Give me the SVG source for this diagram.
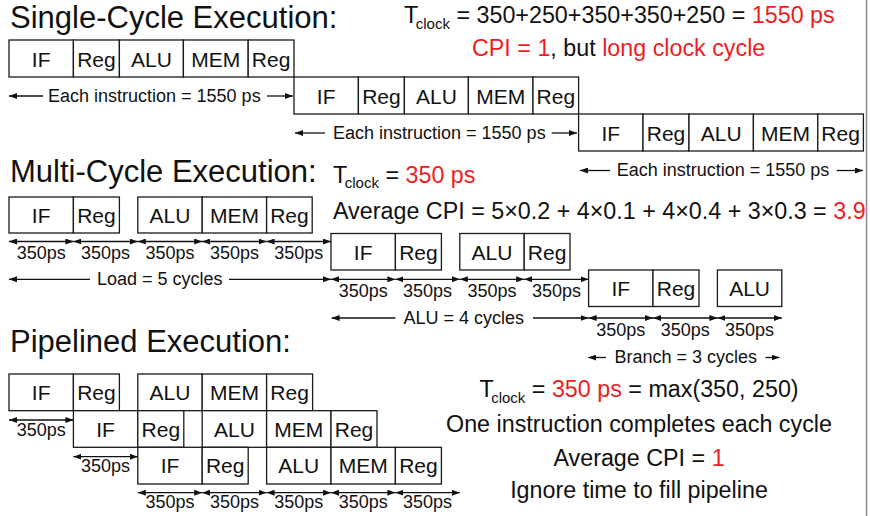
<svg xmlns="http://www.w3.org/2000/svg" width="870" height="516" viewBox="0 0 870 516">
  <style>
    text { font-family: "Liberation Sans", Arial, sans-serif; fill: #111; }
    .box rect { fill: #fff; stroke: #1a1a1a; stroke-width: 1.3; }
    .box text { font-size: 21px; text-anchor: middle; }
    .title { font-size: 31px; }
    .big { font-size: 23.3px; }
    .sub { font-size: 15px; }
    .lbl { font-size: 18px; }
    .mid { text-anchor: middle; }
    .red { fill: #ee1d23; }
    .conn path { fill: none; stroke: #111; stroke-width: 1.3; }
  </style>
  <defs>
    <marker id="head" viewBox="0 0 8 6" refX="8" refY="3" markerWidth="8" markerHeight="6" markerUnits="userSpaceOnUse" orient="auto-start-reverse">
      <path d="M0,0 L8,3 L0,6 z" fill="#111"/>
    </marker>
  </defs>

  <rect x="0" y="0" width="870" height="516" fill="#fff"/>
  <!-- right border -->
  <line x1="866.5" y1="0" x2="866.5" y2="516" stroke="#8a8a8a" stroke-width="1.5"/>

  <!-- ============ Single-cycle ============ -->
  <text class="title" x="10" y="28.2">Single-Cycle Execution:</text>
  <text class="big" x="404" y="23">T<tspan class="sub" dx="-2.5" dy="5.5">clock</tspan><tspan dy="-5.5"> = 350+250+350+350+250 = </tspan><tspan class="red">1550 ps</tspan></text>
  <text class="big" x="472" y="56"><tspan class="red">CPI = 1</tspan>, but <tspan class="red">long clock cycle</tspan></text>

  <!-- instruction 1 -->
  <g id="sc1-if" class="box"><rect x="9" y="40" width="64.4" height="37"/><text x="41.2" y="66.5">IF</text></g>
  <g id="sc1-reg" class="box"><rect x="73.4" y="40" width="46" height="37"/><text x="96.4" y="66.5">Reg</text></g>
  <g id="sc1-alu" class="box"><rect x="119.4" y="40" width="64" height="37"/><text x="151.4" y="66.5">ALU</text></g>
  <g id="sc1-mem" class="box"><rect x="183.4" y="40" width="64.8" height="37"/><text x="215.8" y="66.5">MEM</text></g>
  <g id="sc1-wb" class="box"><rect x="248.2" y="40" width="45.8" height="37"/><text x="271.1" y="66.5">Reg</text></g>
  <!-- instruction 2 -->
  <g id="sc2-if" class="box"><rect x="294" y="77" width="64.4" height="37"/><text x="326.2" y="103.5">IF</text></g>
  <g id="sc2-reg" class="box"><rect x="358.4" y="77" width="46" height="37"/><text x="381.4" y="103.5">Reg</text></g>
  <g id="sc2-alu" class="box"><rect x="404.4" y="77" width="64" height="37"/><text x="436.4" y="103.5">ALU</text></g>
  <g id="sc2-mem" class="box"><rect x="468.4" y="77" width="64.6" height="37"/><text x="500.7" y="103.5">MEM</text></g>
  <g id="sc2-wb" class="box"><rect x="533" y="77" width="45.6" height="37"/><text x="555.8" y="103.5">Reg</text></g>
  <!-- instruction 3 -->
  <g id="sc3-if" class="box"><rect x="578.6" y="114" width="64.4" height="37"/><text x="610.8" y="140.5">IF</text></g>
  <g id="sc3-reg" class="box"><rect x="643" y="114" width="46" height="37"/><text x="666" y="140.5">Reg</text></g>
  <g id="sc3-alu" class="box"><rect x="689" y="114" width="64.4" height="37"/><text x="721.2" y="140.5">ALU</text></g>
  <g id="sc3-mem" class="box"><rect x="753.4" y="114" width="64.4" height="37"/><text x="785.6" y="140.5">MEM</text></g>
  <g id="sc3-wb" class="box"><rect x="817.8" y="114" width="45.6" height="37"/><text x="840.6" y="140.5">Reg</text></g>

  <!-- ============ Multi-cycle ============ -->
  <text class="title" x="10" y="181.5">Multi-Cycle Execution:</text>
  <text class="big" x="333" y="182.7">T<tspan class="sub" dx="-2.5" dy="5.5">clock</tspan><tspan dy="-5.5"> = </tspan><tspan class="red">350 ps</tspan></text>
  <text class="big" x="333" y="219">Average CPI = 5×0.2 + 4×0.1 + 4×0.4 + 3×0.3 = <tspan class="red">3.9</tspan></text>

  <!-- load -->
  <g id="mc-ld-if" class="box"><rect x="9" y="197" width="64.4" height="36"/><text x="41.2" y="223">IF</text></g>
  <g id="mc-ld-reg" class="box"><rect x="73.4" y="197" width="46" height="36"/><text x="96.4" y="223">Reg</text></g>
  <g id="mc-ld-alu" class="box"><rect x="137.8" y="197" width="64.4" height="36"/><text x="170" y="223">ALU</text></g>
  <g id="mc-ld-mem" class="box"><rect x="202.2" y="197" width="64.4" height="36"/><text x="234.4" y="223">MEM</text></g>
  <g id="mc-ld-wb" class="box"><rect x="266.6" y="197" width="45.6" height="36"/><text x="289.4" y="223">Reg</text></g>
  <!-- alu -->
  <g id="mc-alu-if" class="box"><rect x="331" y="233.5" width="64.4" height="36.5"/><text x="363.2" y="259.5">IF</text></g>
  <g id="mc-alu-reg" class="box"><rect x="395.4" y="233.5" width="46" height="36.5"/><text x="418.4" y="259.5">Reg</text></g>
  <g id="mc-alu-alu" class="box"><rect x="459.8" y="233.5" width="64.4" height="36.5"/><text x="492" y="259.5">ALU</text></g>
  <g id="mc-alu-wb" class="box"><rect x="524.2" y="233.5" width="45.8" height="36.5"/><text x="547.1" y="259.5">Reg</text></g>
  <!-- branch -->
  <g id="mc-br-if" class="box"><rect x="588.6" y="270" width="64.4" height="36.5"/><text x="620.8" y="296">IF</text></g>
  <g id="mc-br-reg" class="box"><rect x="653" y="270" width="46" height="36.5"/><text x="676" y="296">Reg</text></g>
  <g id="mc-br-alu" class="box"><rect x="717.4" y="270" width="64.4" height="36.5"/><text x="749.6" y="296">ALU</text></g>

  <!-- ============ Pipelined ============ -->
  <text class="title" x="10" y="352">Pipelined Execution:</text>

  <g id="pl1-if" class="box"><rect x="9" y="374" width="64.4" height="36.7"/><text x="41.2" y="400">IF</text></g>
  <g id="pl1-reg" class="box"><rect x="73.4" y="374" width="46" height="36.7"/><text x="96.4" y="400">Reg</text></g>
  <g id="pl1-alu" class="box"><rect x="137.8" y="374" width="64.4" height="36.7"/><text x="170" y="400">ALU</text></g>
  <g id="pl1-mem" class="box"><rect x="202.2" y="374" width="64.4" height="36.7"/><text x="234.4" y="400">MEM</text></g>
  <g id="pl1-wb" class="box"><rect x="266.6" y="374" width="46" height="36.7"/><text x="289.6" y="400">Reg</text></g>

  <g id="pl2-if" class="box"><rect x="73.4" y="410.7" width="64.4" height="36.6"/><text x="105.6" y="436.7">IF</text></g>
  <g id="pl2-reg" class="box"><rect x="137.8" y="410.7" width="46" height="36.6"/><text x="160.8" y="436.7">Reg</text></g>
  <g id="pl2-alu" class="box"><rect x="202.2" y="410.7" width="64.4" height="36.6"/><text x="234.4" y="436.7">ALU</text></g>
  <g id="pl2-mem" class="box"><rect x="266.6" y="410.7" width="64.4" height="36.6"/><text x="298.8" y="436.7">MEM</text></g>
  <g id="pl2-wb" class="box"><rect x="331" y="410.7" width="46" height="36.6"/><text x="354" y="436.7">Reg</text></g>

  <g id="pl3-if" class="box"><rect x="137.8" y="447.3" width="64.4" height="36.7"/><text x="170" y="473.3">IF</text></g>
  <g id="pl3-reg" class="box"><rect x="202.2" y="447.3" width="46" height="36.7"/><text x="225.2" y="473.3">Reg</text></g>
  <g id="pl3-alu" class="box"><rect x="266.6" y="447.3" width="64.4" height="36.7"/><text x="298.8" y="473.3">ALU</text></g>
  <g id="pl3-mem" class="box"><rect x="331" y="447.3" width="64.4" height="36.7"/><text x="363.2" y="473.3">MEM</text></g>
  <g id="pl3-wb" class="box"><rect x="395.4" y="447.3" width="46" height="36.7"/><text x="418.4" y="473.3">Reg</text></g>

  <text class="big mid" x="639" y="397.3">T<tspan class="sub" dx="-2.5" dy="5.5">clock</tspan><tspan dy="-5.5"> = </tspan><tspan class="red">350 ps</tspan> = max(350, 250)</text>
  <text class="big mid" x="639" y="431.7">One instruction completes each cycle</text>
  <text class="big mid" x="639" y="466">Average CPI = <tspan class="red">1</tspan></text>
  <text class="big mid" x="639" y="498.3">Ignore time to fill pipeline</text>

  <!-- ============ timing arrows ============ -->
  <g id="connectors" class="conn">
    <!-- single-cycle spans -->
    <path d="M43,96 L9,96" marker-end="url(#head)"/>
    <path d="M267,96 L293,96" marker-end="url(#head)"/>
    <path d="M325,133 L295,133" marker-end="url(#head)"/>
    <path d="M551.7,133 L577,133" marker-end="url(#head)"/>
    <path d="M610,170.5 L580,170.5" marker-end="url(#head)"/>
    <path d="M836.7,170.5 L863,170.5" marker-end="url(#head)"/>

    <!-- multi-cycle: load -->
    <path d="M9,241.5 L73.4,241.5" marker-start="url(#head)" marker-end="url(#head)"/>
    <path d="M73.4,241.5 L137.8,241.5" marker-start="url(#head)" marker-end="url(#head)"/>
    <path d="M137.8,241.5 L202.2,241.5" marker-start="url(#head)" marker-end="url(#head)"/>
    <path d="M202.2,241.5 L266.6,241.5" marker-start="url(#head)" marker-end="url(#head)"/>
    <path d="M266.6,241.5 L331,241.5" marker-start="url(#head)" marker-end="url(#head)"/>
    <path d="M90,279.3 L9,279.3" marker-end="url(#head)"/>
    <path d="M229,279.3 L331,279.3" marker-end="url(#head)"/>
    <!-- multi-cycle: alu -->
    <path d="M331,279.3 L395.4,279.3" marker-start="url(#head)" marker-end="url(#head)"/>
    <path d="M395.4,279.3 L459.8,279.3" marker-start="url(#head)" marker-end="url(#head)"/>
    <path d="M459.8,279.3 L524.2,279.3" marker-start="url(#head)" marker-end="url(#head)"/>
    <path d="M524.2,279.3 L588.6,279.3" marker-start="url(#head)" marker-end="url(#head)"/>
    <path d="M395.4,318 L331.6,318" marker-end="url(#head)"/>
    <path d="M533,318 L588.6,318" marker-end="url(#head)"/>
    <!-- multi-cycle: branch -->
    <path d="M588.6,318 L653,318" marker-start="url(#head)" marker-end="url(#head)"/>
    <path d="M653,318 L717.4,318" marker-start="url(#head)" marker-end="url(#head)"/>
    <path d="M717.4,318 L781.8,318" marker-start="url(#head)" marker-end="url(#head)"/>
    <path d="M606,357.5 L588.3,357.5" marker-end="url(#head)"/>
    <path d="M765.5,357.5 L779.5,357.5" marker-end="url(#head)"/>

    <!-- pipelined -->
    <path d="M9,420 L73.4,420" marker-start="url(#head)" marker-end="url(#head)"/>
    <path d="M73.4,456.7 L137.8,456.7" marker-start="url(#head)" marker-end="url(#head)"/>
    <path d="M137.8,492.7 L202.2,492.7" marker-start="url(#head)" marker-end="url(#head)"/>
    <path d="M202.2,492.7 L266.6,492.7" marker-start="url(#head)" marker-end="url(#head)"/>
    <path d="M266.6,492.7 L331,492.7" marker-start="url(#head)" marker-end="url(#head)"/>
    <path d="M331,492.7 L395.4,492.7" marker-start="url(#head)" marker-end="url(#head)"/>
    <path d="M395.4,492.7 L459.8,492.7" marker-start="url(#head)" marker-end="url(#head)"/>
  </g>

  <!-- ============ arrow labels ============ -->
  <g id="labels" class="lbl">
    <text x="48" y="101.7">Each instruction = 1550 ps</text>
    <text x="333" y="138.5">Each instruction = 1550 ps</text>
    <text x="616.7" y="176">Each instruction = 1550 ps</text>

    <g class="mid">
      <text x="41.2" y="259">350ps</text>
      <text x="105.6" y="259">350ps</text>
      <text x="170" y="259">350ps</text>
      <text x="234.4" y="259">350ps</text>
      <text x="298.8" y="259">350ps</text>
      <text x="159.7" y="285">Load = 5 cycles</text>

      <text x="363.2" y="297">350ps</text>
      <text x="427.6" y="297">350ps</text>
      <text x="492" y="297">350ps</text>
      <text x="556.4" y="297">350ps</text>
      <text x="463.8" y="323.7">ALU = 4 cycles</text>

      <text x="620.8" y="335.5">350ps</text>
      <text x="685.2" y="335.5">350ps</text>
      <text x="749.6" y="335.5">350ps</text>
      <text x="685.7" y="363.2">Branch = 3 cycles</text>

      <text x="41.2" y="436">350ps</text>
      <text x="105.6" y="471.7">350ps</text>
      <text x="170" y="508.3">350ps</text>
      <text x="234.4" y="508.3">350ps</text>
      <text x="298.8" y="508.3">350ps</text>
      <text x="363.2" y="508.3">350ps</text>
      <text x="427.6" y="508.3">350ps</text>
    </g>
  </g>
</svg>
